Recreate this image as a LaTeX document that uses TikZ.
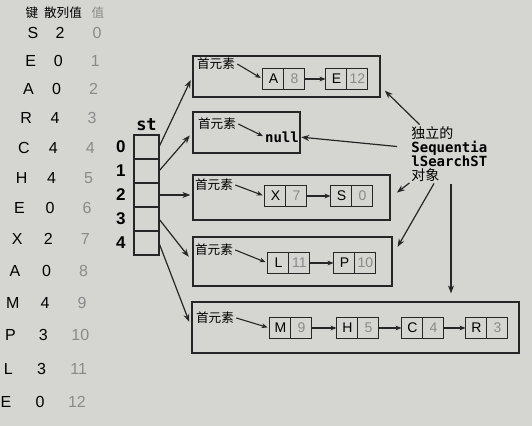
\documentclass[tikz,border=0pt]{standalone}
\usepackage{fontspec}
\setmainfont{Liberation Sans}
\setmonofont{DejaVu Sans Mono}
\newfontfamily\cjk{Noto Sans CJK SC}
\usetikzlibrary{positioning,arrows.meta,fit,matrix}
\definecolor{paper}{RGB}{213,213,209}
\definecolor{ink}{RGB}{38,38,38}
\definecolor{faint}{RGB}{138,138,138}
\tikzset{
  ptr/.style={-{Stealth[length=4pt,width=3pt]},line width=0.6pt,ink},
  link/.style={-{Stealth[length=3pt,width=2.4pt]},line width=0.55pt,ink},
  lbox/.style={draw=ink,line width=0.6pt,inner sep=0pt},
  pair/.style={matrix of nodes,inner sep=0pt,outer sep=0pt,line width=0.5pt,
    column sep=-\pgflinewidth,
    nodes={draw=ink,line width=0.5pt,minimum width=10.5pt,minimum height=10.5pt,
      inner sep=0pt,font=\fontsize{7}{8}\selectfont,anchor=center},
    column 2/.style={nodes={text=faint}}},
  hd/.style={font=\cjk\fontsize{6.3}{7}\selectfont,inner sep=1pt},
  cellbox/.style={draw=ink,line width=0.6pt,minimum width=12.5pt,
    minimum height=12pt,inner sep=0pt,outer sep=0pt},
  idx/.style={font=\bfseries\fontsize{8.5}{9}\selectfont,inner sep=1pt},
  tbl/.style={font=\fontsize{8}{9}\selectfont,inner sep=0pt},
  tblval/.style={tbl,text=faint},
  code/.style={font=\ttfamily\bfseries\fontsize{7}{7}\selectfont,inner sep=0pt},
}

\begin{document}
\begin{tikzpicture}[x=0.5pt,y=-0.5pt]
  \fill[paper] (0,0) rectangle (532,426);
  \useasboundingbox (0,0) rectangle (532,426);

  \node[hd] (th0) at (32,13) {键};
  \node[hd] (th1) at (63,13) {散列值};
  \node[hd,text=faint] (th2) at (98,13) {值};
  \foreach \k/\h [count=\i from 0] in {S/2,E/0,A/0,R/4,C/4,H/4,E/0,X/2,A/0,M/4,P/3,L/3,E/0}{
    \pgfmathsetmacro\yy{33+27.6*\i+0.264*\i*\i}
    \node[tbl] (key\i) at ({33-2.25*\i},\yy) {\k};
    \node[tbl] (hash\i) at ({60-1.67*\i},\yy) {\h};
    \node[tblval] (val\i) at ({97-1.67*\i},\yy) {\i};
  }

  \foreach \i in {0,...,4}{
    \node[cellbox] (c\i) at (146.5,{147+24*\i}) {};
    \node[idx,left=3pt of c\i] (i\i) {\i};
  }
  \node[code,font=\ttfamily\bfseries\fontsize{8.5}{9}\selectfont,above=2pt of c0] (st) {st};

  \node[lbox,fit={(193,56) (380,97)}] (b0) {};
  \node[lbox,fit={(193,112) (300,153)}] (b1) {};
  \node[lbox,fit={(193,175) (390,220)}] (b2) {};
  \node[lbox,fit={(193,237) (392,286)}] (b3) {};
  \node[lbox,fit={(192,302) (519,353)}] (b4) {};

  \node[hd] (f0) at (216,64) {首元素};
  \node[hd] (f1) at (217,124) {首元素};
  \node[hd] (f2) at (214,185) {首元素};
  \node[hd] (f3) at (214,250) {首元素};
  \node[hd] (f4) at (215,318) {首元素};

  \matrix[pair] (e0a) at (284,79) {A & 8\\};
  \matrix[pair] (e0b) at (347,79) {E & 12\\};
  \node[code] (nul) at (282,137) {null};
  \matrix[pair] (e2a) at (286,196) {X & 7\\};
  \matrix[pair] (e2b) at (352,196) {S & 0\\};
  \matrix[pair] (e3a) at (289,263) {L & 11\\};
  \matrix[pair] (e3b) at (355,263) {P & 10\\};
  \matrix[pair] (e4a) at (291,328) {M & 9\\};
  \matrix[pair] (e4b) at (358,328) {H & 5\\};
  \matrix[pair] (e4c) at (423,328) {C & 4\\};
  \matrix[pair] (e4d) at (487,328) {R & 3\\};

  \draw[link,shorten >=1pt] (f0.east) -- (e0a.west);
  \draw[link] (e0a.east) -- (e0b.west);
  \draw[link,shorten >=1pt] (f1.east) -- (nul.west);
  \draw[link,shorten >=1pt] (f2.east) -- (e2a.west);
  \draw[link] (e2a.east) -- (e2b.west);
  \draw[link,shorten >=1pt] (f3.east) -- (e3a.west);
  \draw[link] (e3a.east) -- (e3b.west);
  \draw[link,shorten >=1pt] (f4.east) -- (e4a.west);
  \draw[link] (e4a.east) -- (e4b.west);
  \draw[link] (e4b.east) -- (e4c.west);
  \draw[link] (e4c.east) -- (e4d.west);

  \draw[ptr,shorten >=2pt] (c0.east) -- (b0.west);
  \draw[ptr,shorten >=2pt] (c1.east) -- (b1.west);
  \draw[ptr,shorten >=1pt] (c2.east) -- (c2.east -| b2.west);
  \draw[ptr,shorten >=3pt] (c3.east) -- (b3.west);
  \draw[ptr,shorten >=3pt] (c4.east) -- (b4.west);

  \node[code,align=left,anchor=north west] (note) at (411,126)
    {{\cjk\mdseries 独立的}\\Sequentia\\lSearchST\\{\cjk\mdseries 对象}};
  \coordinate (n5) at ([xshift=20pt]note.south west);
  \draw[ptr,shorten <=1pt,shorten >=3pt] ([xshift=5pt]note.north west) -- ([yshift=-5pt]b0.east);
  \draw[ptr,shorten <=7pt,shorten >=1pt] ([yshift=3pt]note.west) -- (nul.east);
  \draw[ptr,shorten <=1pt,shorten >=4pt] (note.south west) -- (b2.east);
  \draw[ptr,shorten <=1pt,shorten >=5pt] ([xshift=12pt]note.south west) -- ([yshift=3pt]b3.east);
  \draw[ptr,shorten <=1pt,shorten >=4pt] (n5) -- (n5 |- b4.north);
\end{tikzpicture}
\end{document}
